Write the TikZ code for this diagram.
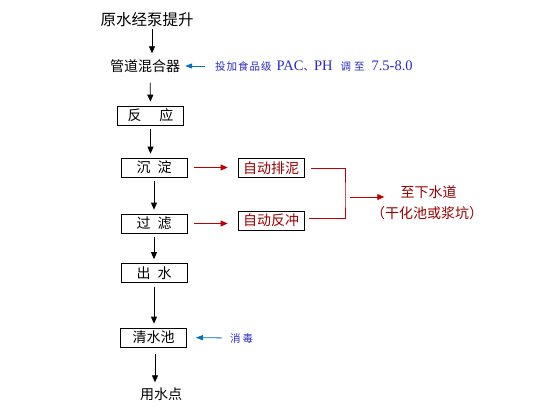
\documentclass[tikz,border=0pt]{standalone}
\usepackage{fontspec}
\setmainfont{Liberation Serif}
\newfontfamily\cjk{Noto Sans CJK SC}
\usepackage{xcolor}
\usetikzlibrary{arrows.meta,positioning}
\definecolor{flowred}{RGB}{192,0,0}
\definecolor{textred}{RGB}{153,0,0}
\definecolor{doseblue}{RGB}{40,40,200}
\definecolor{arrblue}{RGB}{0,112,192}
\newcommand\smallcjk{\cjk\fontsize{10.5}{12}\selectfont}

\begin{document}
\begin{tikzpicture}[x=1pt,y=-1pt,
  every node/.style={font=\cjk\fontsize{14}{16}\selectfont,inner sep=0pt},
  small/.style={font=\fontsize{14.5}{16}\selectfont},
  box/.style={draw,line width=0.7pt,minimum width=66pt,minimum height=19pt},
  redbox/.style={box,text=textred},
  arr/.style={-{Triangle[length=7pt,width=6pt]},line width=0.8pt},
  redarr/.style={arr,flowred},
  bluearr/.style={-{Triangle[length=7pt,width=5pt]},line width=0.8pt,arrblue}]
  \useasboundingbox (0,0) rectangle (551,413);
  % main process line
  \node (src) at (147,20) [font=\cjk\fontsize{15.5}{17}\selectfont] {原水经泵提升};
  \node (mix) at (145,66) {管道混合器};
  \node[box] (react) at (150.5,115.5) {反\hspace{18pt}应};
  \node[box] (settle) at (154,167.5) {沉\hspace{7pt}淀};
  \node[box] (filter) at (154,223.5) {过\hspace{7pt}滤};
  \node[box] (outlet) at (154,273) {出\hspace{7pt}水};
  \node[box] (clear) at (153.5,337.5) {清水池};
  \node (use) at (161,394) {用水点};
  % dosing
  \node[small,anchor=west,text=doseblue] (dose) at (215,66)
    {{\smallcjk 投\kern1pt 加\kern1pt 食\kern1pt 品\kern1pt 级}\kern5pt PAC{\smallcjk 、}PH\kern8pt{\smallcjk 调\kern3pt 至}\kern7pt 7.5-8.0};
  \node[anchor=west,text=doseblue,font=\smallcjk] (disinf) at (230,338) {消\kern2pt 毒};
  % sludge handling
  \node[redbox] (sludge) at (271,168) {自动排泥};
  \node[redbox] (backwash) at (271,220.5) {自动反冲};
  \node[text=textred] (drain) at (428.5,192) {至下水道};
  \node[text=textred] (drainsub) at (427,213) {（干化池或浆坑）};
  \coordinate (jn) at (345,197);

  \draw[arr,shorten <=2pt,shorten >=6pt] ([xshift=5pt]src.south) -- ([xshift=7pt]mix.north);
  \draw[arr,shorten <=10pt,shorten >=4pt] ([xshift=5pt]mix.south) -- (react.north);
  \foreach \a/\b in {react/settle,settle/filter,filter/outlet,outlet/clear}
    \draw[arr,shorten <=4pt,shorten >=4pt] (\a.south) -- (\a.south |- \b.north);
  \draw[arr,shorten <=7pt,shorten >=5pt] ([xshift=1.5pt]clear.south) -- ([xshift=1.5pt]clear.south |- use.north);
  \draw[bluearr,shorten <=10pt,shorten >=5pt] (dose.west) -- (mix.east);
  \draw[bluearr,shorten <=8pt,shorten >=9pt] (disinf.west) -- (clear.east);
  \draw[redarr,shorten <=7pt,shorten >=10pt] (settle.east) -- (settle.east -| sludge.west);
  \draw[redarr,shorten <=7pt,shorten >=10pt] (filter.east) -- (filter.east -| backwash.west);
  \draw[flowred,line width=0.8pt] ([xshift=7pt]sludge.east) -| (jn) |- ([xshift=5pt,yshift=2.5pt]backwash.east);
  \draw[redarr,shorten <=5pt,shorten >=16pt] (jn) -- (jn -| drain.west);
\end{tikzpicture}
\end{document}
